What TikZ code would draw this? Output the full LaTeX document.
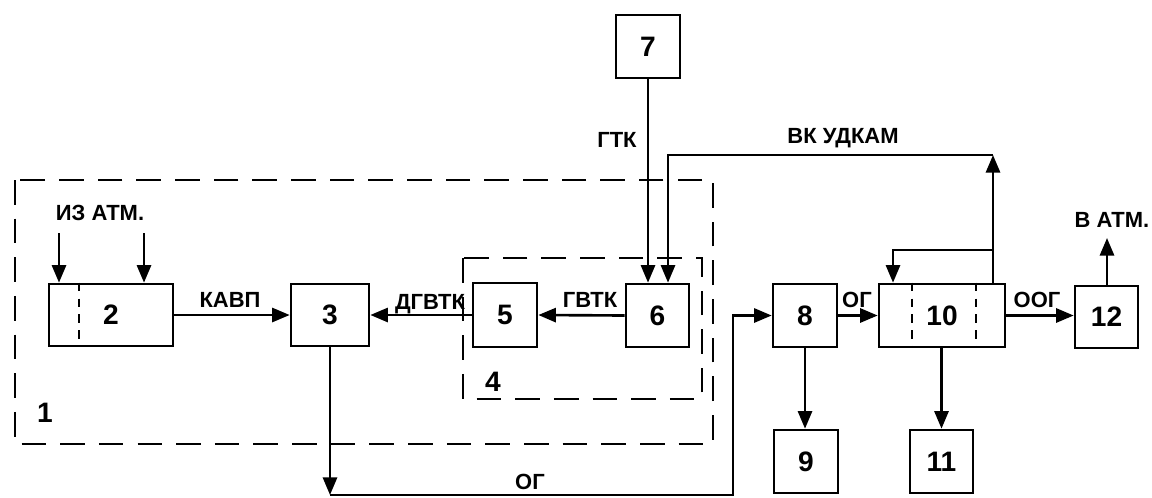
\documentclass[tikz,border=0pt]{standalone}
\usepackage{fontspec}
\setmainfont{Liberation Sans}
\usetikzlibrary{arrows.meta}
\begin{document}
\begin{tikzpicture}[x=0.02cm,y=-0.02cm,
  blk/.style={draw,line width=1.5pt,inner sep=0pt,font=\fontsize{16}{18}\selectfont\bfseries},
  lbl/.style={inner sep=0pt,font=\fontsize{12.5}{14}\selectfont\bfseries},
  arr/.style={line width=1.5pt,-{Triangle[length=10pt,width=8pt]}},
  ln/.style={line width=1.5pt},
  dsh/.style={line width=1pt,dash pattern=on 14pt off 8pt},
  sdsh/.style={line width=1pt,dash pattern=on 5pt off 4pt}]
\useasboundingbox (0,0) rectangle (1152,497);
% dashed groups
\draw[dsh] (15,180) rectangle (713,444);
\draw[dsh] (463,258) rectangle (702,399);
% boxes
\node[blk,minimum width=2.48cm,minimum height=1.24cm] (n2) at (111,315) {2};
\node[blk,minimum width=1.56cm,minimum height=1.24cm] (n3) at (330,315) {3};
\node[blk,minimum width=1.28cm,minimum height=1.28cm] (n5) at (505,315) {5};
\node[blk,minimum width=1.26cm,minimum height=1.26cm] (n6) at (657.5,315.5) {6};
\node[blk,minimum width=1.28cm,minimum height=1.26cm] (n7) at (648,46.5) {7};
\node[blk,minimum width=1.28cm,minimum height=1.26cm] (n8) at (805,315.5) {8};
\node[blk,minimum width=1.28cm,minimum height=1.26cm] (n9) at (806,461.5) {9};
\node[blk,minimum width=2.52cm,minimum height=1.26cm] (n10) at (942,315.5) {10};
\node[blk,minimum width=1.26cm,minimum height=1.26cm] (n11) at (941.5,461.5) {11};
\node[blk,minimum width=1.26cm,minimum height=1.24cm] (n12) at (1106.5,317) {12};
% dividers
\draw[sdsh] (n2.north west) ++(31,0) coordinate (dv2) -- (dv2 |- n2.south);
\draw[sdsh] (912,0 |- n10.north) coordinate (dv10a) -- (dv10a |- n10.south);
\draw[sdsh] (976,0 |- n10.north) coordinate (dv10b) -- (dv10b |- n10.south);
% coordinates
\coordinate (a1) at (59,233);
\coordinate (a2) at (144,233);
\coordinate (c1) at (993,155);
\coordinate (c2) at (668,155);
\coordinate (b1) at (993,250);
\coordinate (b2) at (893,250);
\coordinate (up) at (1107,238);
\coordinate (d1) at (330,495);
\coordinate (d2) at (733,495);
% connectors
\draw[arr] (a1) -- (a1 |- n2.north);
\draw[arr] (a2) -- (a2 |- n2.north);
\draw[arr] (n2.east) -- (n3.west);
\draw[arr] (n5.west) -- (n3.east);
\draw[arr] (n6.west) -- (n5.east);
\draw[arr] (n7.south) -- (n7.south |- n6.north);
\draw[arr] (c1 |- n10.north) -- (c1);
\draw[arr] (c1) -- (c2) -- (c2 |- n6.north);
\draw[arr] (b1) -- (b2) -- (b2 |- n10.north);
\draw[arr] (n8.east) -- (n10.west);
\draw[arr] (n10.east) -- (n12.west |- n10.east);
\draw[arr] (up |- n12.north) -- (up);
\draw[arr] (n8.south) -- (n8.south |- n9.north);
\draw[arr] (n10.south -| n11.north) -- (n11.north);
\draw[arr] (n3.south) -- (d1);
\draw[arr] (d1) -- (d2) -- (d2 |- n8.west) -- (n8.west);
% labels
\node[lbl] (l1) at (100,213) {ИЗ АТМ.};
\node[lbl] (l2) at (230,300) {КАВП};
\node[lbl] (l3) at (430,304) {ДГВТК};
\node[lbl] (l4) at (590,300) {ГВТК};
\node[lbl] (l5) at (617,140) {ГТК};
\node[lbl] (l6) at (843,138) {ВК УДКАМ};
\node[lbl] (l7) at (857,300) {ОГ};
\node[lbl] (l8) at (1037,300) {ООГ};
\node[lbl] (l9) at (1112,220) {В АТМ.};
\node[lbl] (l10) at (530,482) {ОГ};
\node[blk,draw=none] (l11) at (45,413) {1};
\node[blk,draw=none] (l12) at (493,382) {4};
\end{tikzpicture}
\end{document}
